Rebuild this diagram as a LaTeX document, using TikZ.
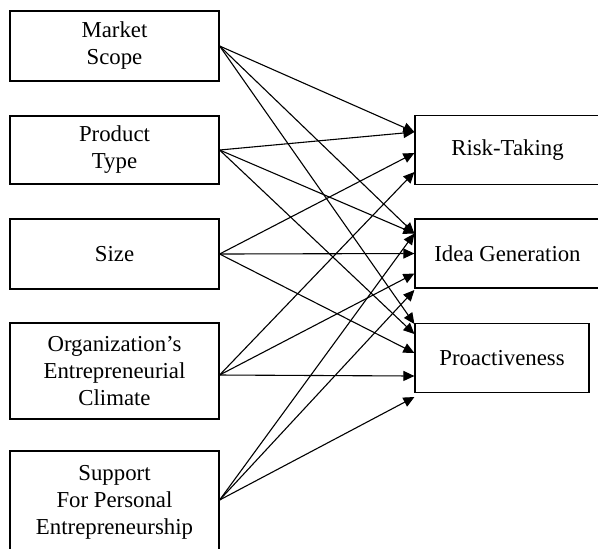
\documentclass[tikz,border=0pt]{standalone}
\usepackage{fontspec}
\setmainfont{Liberation Serif}
\usetikzlibrary{arrows.meta}

\begin{document}
\begin{tikzpicture}[
    x=0.5pt, y=-0.5pt,
    every node/.style={font=\fontsize{11.4}{13.5}\selectfont},
    factor/.style={draw, line width=0.6pt, minimum width=104.5pt, align=center, inner sep=0pt},
    outcome/.style={draw, line width=0.6pt, minimum height=34.5pt, align=center, inner sep=0pt},
    directed/.style={-{Triangle[length=5.5pt, width=5pt]}, line width=0.55pt}
]
    \useasboundingbox (0,0) rectangle (598,548);

    % Factors
    \node[factor, minimum height=35pt] (market) at (114.5,46) {Market\\Scope};
    \node[factor, minimum height=34pt] (product) at (114.5,150) {Product\\Type};
    \node[factor, minimum height=35pt] (size) at (114.5,254) {Size};
    \node[factor, minimum height=48pt] (climate) at (114.5,371) {Organization's\\Entrepreneurial\\Climate};
    \node[factor, minimum height=51pt] (support) at (114.5,502) {Support\\For Personal\\Entrepreneurship};

    % Outcomes
    \node[outcome, minimum width=92.5pt] (risk) at (507.5,150) {Risk-Taking};
    \node[outcome, minimum width=92.5pt] (idea) at (507.5,253.5) {Idea Generation};
    \node[outcome, minimum width=87pt] (proactive) at (502,358) {Proactiveness};

    % Arrows into Risk-Taking
    \draw[directed] (market.east) -- ([yshift=9pt]risk.west);
    \draw[directed] (product.east) -- ([yshift=9pt]risk.west);
    \draw[directed] (size.east) -- ([yshift=-1.5pt]risk.west);
    \draw[directed] ([yshift=-2pt]climate.east) -- ([yshift=-11pt]risk.west);

    % Arrows into Idea Generation
    \draw[directed] (market.east) -- ([yshift=10pt]idea.west);
    \draw[directed] (product.east) -- ([yshift=10pt]idea.west);
    \draw[directed] ([yshift=1pt]support.east) -- ([yshift=10pt]idea.west);
    \draw[directed] (size.east) -- (idea.west);
    \draw[directed] ([yshift=-2pt]climate.east) -- ([yshift=-10pt]idea.west);
    \draw[directed] ([yshift=1pt]support.east) -- ([yshift=-18.25pt]idea.west);

    % Arrows into Proactiveness
    \draw[directed] (market.east) -- ([yshift=17pt]proactive.west);
    \draw[directed] (product.east) -- ([yshift=12pt]proactive.west);
    \draw[directed] (size.east) -- ([yshift=2.5pt]proactive.west);
    \draw[directed] ([yshift=-2pt]climate.east) -- ([yshift=-9pt]proactive.west);
    \draw[directed] ([yshift=1pt]support.east) -- ([yshift=-19.5pt]proactive.west);
\end{tikzpicture}
\end{document}
